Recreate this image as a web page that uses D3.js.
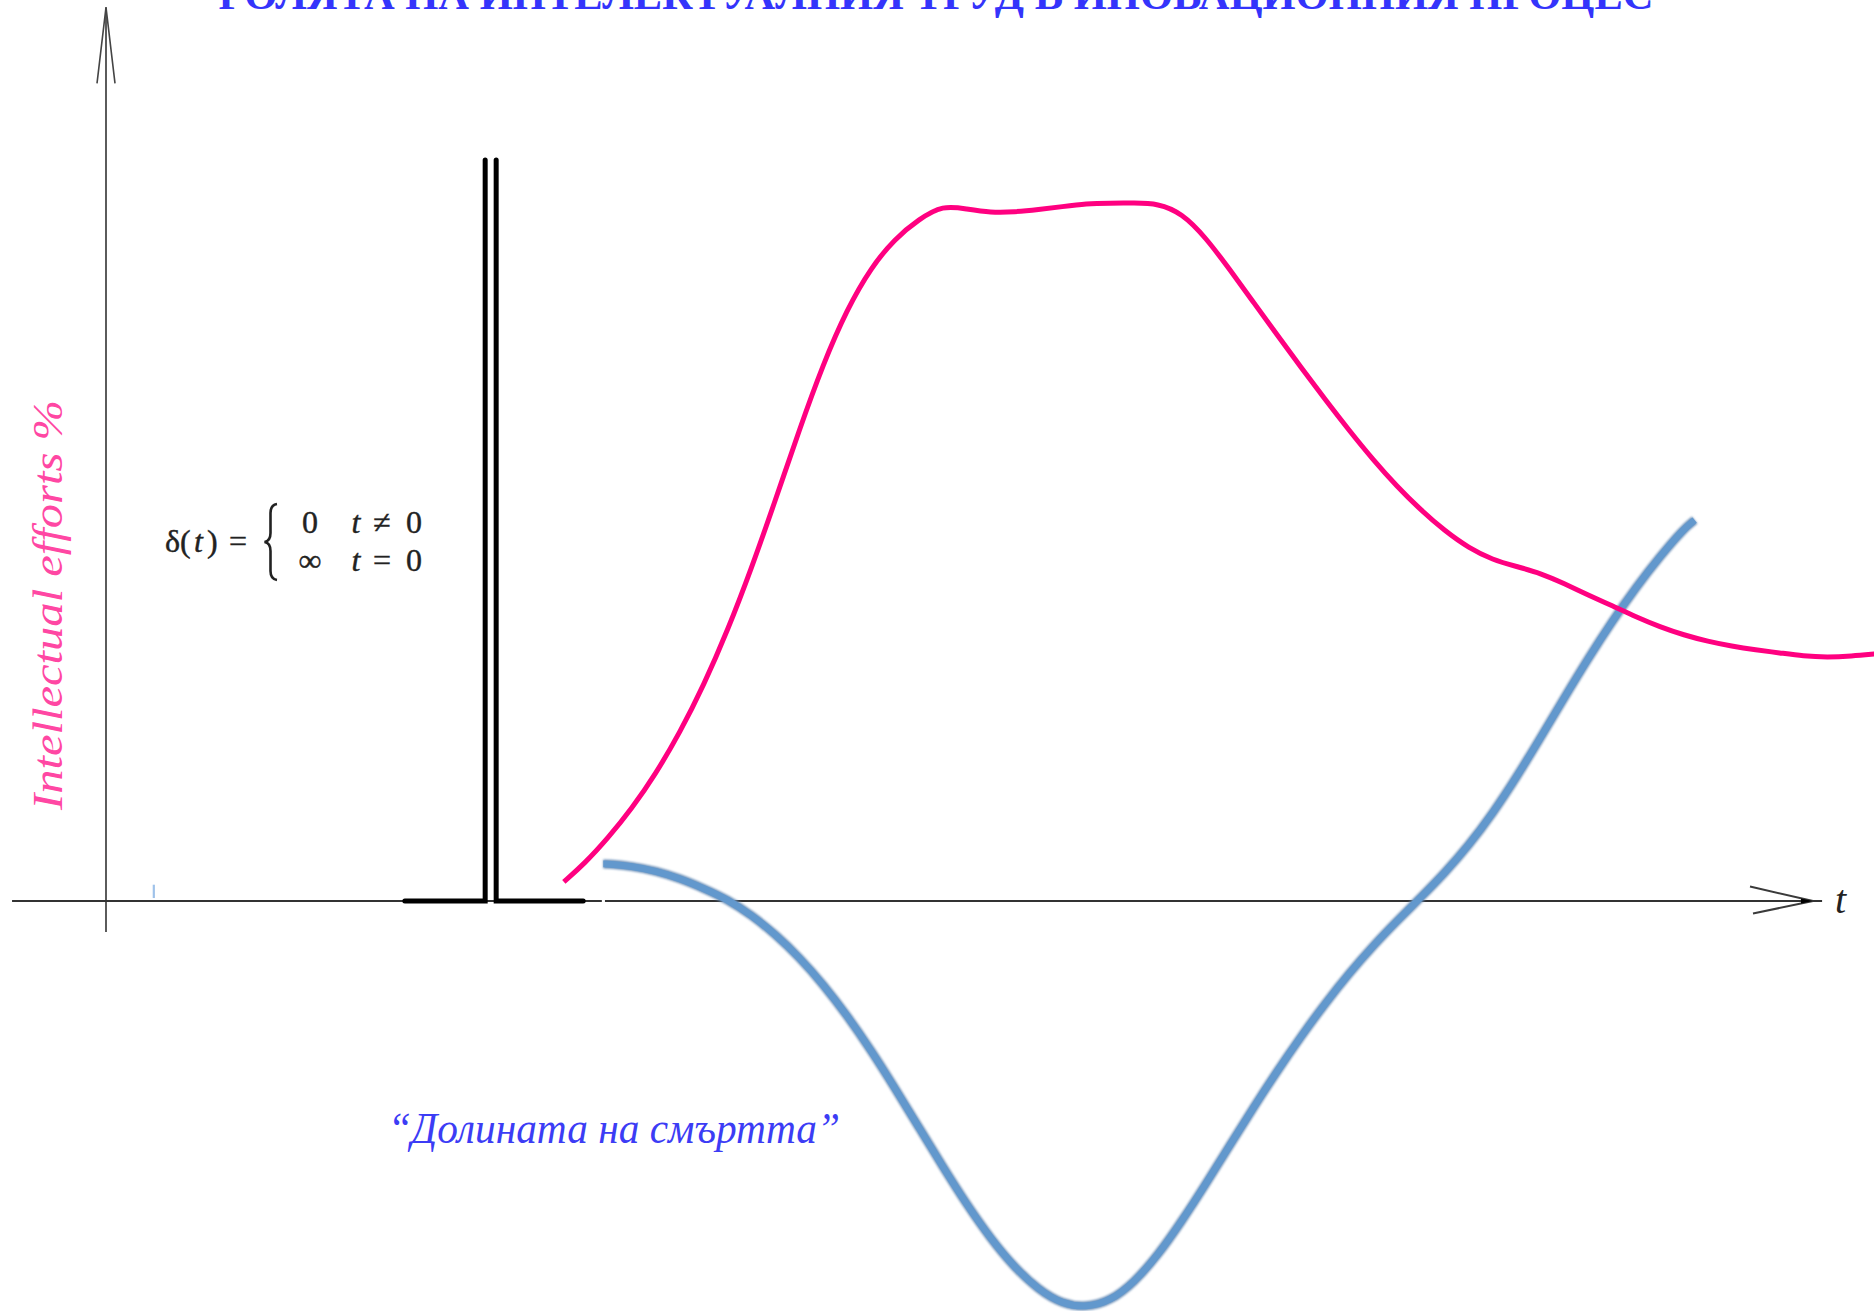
<!DOCTYPE html>
<html><head><meta charset="utf-8">
<script src="https://cdn.jsdelivr.net/npm/d3@7"></script>
<style>html,body{margin:0;padding:0;background:#fff;overflow:hidden}</style>
</head><body>
<svg id="chart" width="1874" height="1311"></svg>
<script>
// ---- data (time units, effort in % of the delta pulse height) ----
const titleText = "РОЛЯТА НА ИНТЕЛЕКТУАЛНИЯ ТРУД В ИНОВАЦИОННИЯ ПРОЦЕС";
const yLabelText = "Intellectual efforts %";
const xLabelText = "t";
const valleyText = "“Долината на смъртта”";

const pinkT = [19.15,20,21,22,23,24,25,26,27,28,29,30,31,32,33,34,35,36,37,38,39,40,41,42,43,44,45,46,47,48,49,50,51,52,53,54,55,56,57,58,59,60,61,62,63,64,65,66,67,68,69,70,71,72,73,74];
const pinkEffort = [2.58,5.0,8.5,12.5,17.2,22.7,29.1,36.5,44.9,54.1,63.6,72.5,79.9,85.5,89.4,92.0,93.9,93.39,92.9,92.98,93.31,93.71,94.11,94.19,94.19,94.14,92.84,89.54,85.24,80.79,76.34,71.94,67.64,63.49,59.54,55.94,52.74,49.94,47.64,46.04,45.14,44.24,42.84,41.29,39.84,38.34,36.99,35.89,35.04,34.39,33.89,33.49,33.04,32.89,33.04,33.34];

const blueT = [20.8,21,22,23,24,25,26,27,28,29,30,31,32,33,34,35,36,37,38,39,40,41,42,43,44,45,46,47,48,49,50,51,52,53,54,55,56,57,58,59,60,61,62,63,64,65,66,66.45];
const blueEffort = [5.0,5.0,4.7,4.05,3.05,1.7,0.2,-1.9,-4.5,-7.6,-11.25,-15.45,-20.15,-25.25,-30.55,-35.85,-40.95,-45.55,-49.45,-52.45,-54.4,-54.85,-54.0,-51.5,-47.8,-43.2,-38.2,-33.0,-27.85,-22.9,-18.2,-13.8,-9.75,-6.05,-2.7,0.5,3.8,7.5,11.8,16.7,22.0,27.45,32.75,37.75,42.35,46.5,50.25,51.4];

const deltaBase = [12.5, 19.96];    // flat part of the delta pulse
const deltaPulse = [15.86, 16.32];  // the two edges of the pulse
const deltaPeak = 100;
const strayMarkT = [2.0];
const strayMarkEffort = [0.4, 2.2];

const xAxisExtent = [-3.93, 71.78];
const xAxisGap = [20.74, 20.87];
const yAxisExtent = [-4.18, 120.6];

// ---- scales ----
const W = 1874, H = 1311;
const x = d3.scaleLinear().domain([0, 71.4]).range([106, 1813]);
const y = d3.scaleLinear().domain([0, 100]).range([901, 160]);

const svg = d3.select("#chart");
svg.append("rect").attr("width", W).attr("height", H).attr("fill", "#fff");

const defs = svg.append("defs");
defs.append("filter").attr("id", "soft").attr("x", "-5%").attr("y", "-5%").attr("width", "110%").attr("height", "110%")
  .append("feGaussianBlur").attr("stdDeviation", 1.0);

// ---- title ----
svg.append("text")
  .attr("x", 936).attr("y", 9)
  .attr("text-anchor", "middle")
  .attr("font-family", "'Liberation Serif', 'Times New Roman', serif")
  .attr("font-weight", "bold").attr("font-size", 42)
  .attr("fill", "#3434fb")
  .attr("textLength", 1435).attr("lengthAdjust", "spacingAndGlyphs")
  .text(titleText);

// ---- axes ----
const axisColor = "#333";
svg.append("line").attr("x1", x(xAxisExtent[0])).attr("x2", x(xAxisGap[0]))
  .attr("y1", y(0)).attr("y2", y(0)).attr("stroke", axisColor).attr("stroke-width", 2);
svg.append("line").attr("x1", x(xAxisGap[1])).attr("x2", x(xAxisExtent[1]))
  .attr("y1", y(0)).attr("y2", y(0)).attr("stroke", axisColor).attr("stroke-width", 2);
const xTip = x(71.4);
svg.append("path")
  .attr("d", `M${xTip - 63},${y(0) - 14.5} L${xTip},${y(0)} L${xTip - 60},${y(0) + 12.5}`)
  .attr("fill", "none").attr("stroke", "#3a3a3a").attr("stroke-width", 2);
svg.append("path")
  .attr("d", `M${xTip - 12},${y(0) - 2.5} L${xTip},${y(0)} L${xTip - 12},${y(0) + 2.5} Z`)
  .attr("fill", "#000");
svg.append("line").attr("x1", x(0)).attr("x2", x(0))
  .attr("y1", y(yAxisExtent[1])).attr("y2", y(yAxisExtent[0]))
  .attr("stroke", axisColor).attr("stroke-width", 1.6);
const yTip = y(yAxisExtent[1]);
svg.append("path")
  .attr("d", `M${x(0) - 9},${yTip + 76} L${x(0)},${yTip} L${x(0) + 9},${yTip + 76}`)
  .attr("fill", "none").attr("stroke", "#444").attr("stroke-width", 1.6);

svg.append("text")
  .attr("x", 1835).attr("y", 913)
  .attr("font-family", "'Liberation Serif', serif").attr("font-style", "italic")
  .attr("font-size", 40).attr("fill", "#222")
  .text(xLabelText);

svg.append("text")
  .attr("transform", "translate(62,810) rotate(-90)")
  .attr("font-family", "'Liberation Serif', serif").attr("font-style", "italic")
  .attr("font-size", 42).attr("fill", "#ff47a3")
  .attr("textLength", 410).attr("lengthAdjust", "spacingAndGlyphs")
  .text(yLabelText);

// ---- stray mark ----
svg.append("line")
  .attr("x1", x(strayMarkT[0])).attr("x2", x(strayMarkT[0]))
  .attr("y1", y(strayMarkEffort[0])).attr("y2", y(strayMarkEffort[1]))
  .attr("stroke", "#9fc2ea").attr("stroke-width", 2.2);

// ---- delta pulse ----
const pulseLeft = [[deltaBase[0], 0], [deltaPulse[0], 0], [deltaPulse[0], deltaPeak]];
const pulseRight = [[deltaPulse[1], deltaPeak], [deltaPulse[1], 0], [deltaBase[1], 0]];
const lineXY = d3.line().x(d => x(d[0])).y(d => y(d[1]));
[pulseLeft, pulseRight].forEach(p => {
  svg.append("path").attr("d", lineXY(p))
    .attr("fill", "none").attr("stroke", "#000").attr("stroke-width", 5)
    .attr("stroke-linejoin", "miter").attr("stroke-linecap", "round");
});

// ---- formula ----
const fFont = "'Liberation Serif', 'Times New Roman', serif";
const fColor = "#222";
const fSize = 32;
const formula = svg.append("g").attr("font-family", fFont).attr("font-size", fSize)
  .attr("fill", fColor).attr("stroke", fColor).attr("stroke-width", 0.4);
formula.append("text").attr("x", 165).attr("y", 552).text("δ(");
formula.append("text").attr("x", 194).attr("y", 552).attr("font-style", "italic").text("t");
formula.append("text").attr("x", 207).attr("y", 552).text(")");
formula.append("text").attr("x", 238).attr("y", 552).attr("text-anchor", "middle").text("=");
formula.append("path")
  .attr("d", "M277,504 Q270.5,505 270.5,513 L270.5,533 Q270.5,541 264.5,542 Q270.5,543 270.5,551 L270.5,571 Q270.5,579 277,580")
  .attr("fill", "none").attr("stroke-width", 2.6);
const rowsY = [533, 571];
const formulaRows = [["0", "t", "≠", "0"], ["∞", "t", "=", "0"]];
formulaRows.forEach((r, i) => {
  formula.append("text").attr("x", 310).attr("y", rowsY[i]).attr("text-anchor", "middle").text(r[0]);
  formula.append("text").attr("x", 356).attr("y", rowsY[i]).attr("text-anchor", "middle").attr("font-style", "italic").text(r[1]);
  formula.append("text").attr("x", 382).attr("y", rowsY[i]).attr("text-anchor", "middle").text(r[2]);
  formula.append("text").attr("x", 414).attr("y", rowsY[i]).attr("text-anchor", "middle").text(r[3]);
});

// ---- curves ----
const curveLine = d3.line().x(d => x(d[0])).y(d => y(d[1])).curve(d3.curveBasis);
const blueData = blueT.map((t, i) => [t, blueEffort[i]]);
const pinkData = pinkT.map((t, i) => [t, pinkEffort[i]]);

svg.append("path").attr("d", curveLine(blueData))
  .attr("fill", "none").attr("stroke", "#6a8fb8").attr("stroke-width", 9)
  .attr("filter", "url(#soft)");
svg.append("path").attr("d", curveLine(blueData))
  .attr("fill", "none").attr("stroke", "#6298cd").attr("stroke-width", 6.8);

svg.append("path").attr("d", curveLine(pinkData))
  .attr("fill", "none").attr("stroke", "#ff0080").attr("stroke-width", 5)
  .attr("stroke-linejoin", "round");

// ---- valley label ----
svg.append("text")
  .attr("x", 388).attr("y", 1143)
  .attr("font-family", "'Liberation Serif', serif").attr("font-style", "italic")
  .attr("font-size", 44).attr("fill", "#3c3cf5")
  .attr("textLength", 452).attr("lengthAdjust", "spacingAndGlyphs")
  .text(valleyText);
</script>
</body></html>
